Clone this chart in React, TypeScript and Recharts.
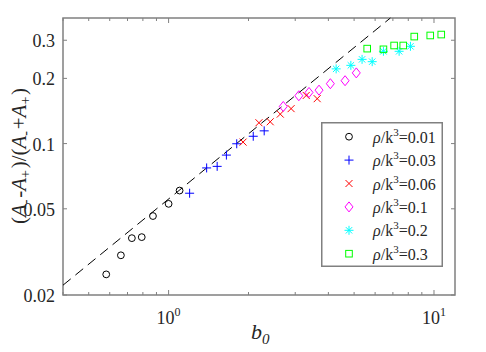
import {
    ScatterChart,
    Scatter,
    XAxis,
    YAxis,
    ReferenceLine,
    ReferenceArea,
    Legend,
} from "recharts"

// series values (b0, (A- - A+)/(A- + A+))
const labels = ["0.01", "0.03", "0.06", "0.1", "0.2", "0.3"]

const x001 = [0.582, 0.661, 0.727, 0.792, 0.873, 1.0, 1.1]
const y001 = [0.0249, 0.0305, 0.0366, 0.037, 0.0463, 0.0527, 0.0607]

const x003 = [1.2, 1.391, 1.524, 1.651, 1.806, 2.084, 2.292]
const y003 = [0.059, 0.0772, 0.0785, 0.0885, 0.0998, 0.1081, 0.1145]

const x006 = [1.908, 2.19, 2.415, 2.635, 2.894, 3.3, 3.63]
const y006 = [0.1016, 0.1248, 0.1261, 0.1368, 0.145, 0.1668, 0.1612]

const x01 = [2.704, 3.095, 3.381, 3.688, 4.069, 4.623, 5.096]
const y01 = [0.1484, 0.1663, 0.1722, 0.1765, 0.189, 0.1951, 0.212]

const x02 = [4.279, 4.861, 5.358, 5.85, 6.449, 7.39, 8.153]
const y02 = [0.2213, 0.2297, 0.2448, 0.2389, 0.2667, 0.2667, 0.2812]

const x03 = [5.602, 6.449, 7.076, 7.659, 8.427, 9.68, 10.65]
const y03 = [0.2744, 0.2724, 0.2837, 0.2837, 0.3119, 0.3156, 0.3187]

// dashed guide line end points
const guideX = [0.4, 6.85]
const guideY = [0.0222, 0.38]

const xDomain = [0.4, 12]
const yDomain = [0.02, 0.38]
const xTicks = [0.4, 0.5, 0.6, 0.7, 0.8, 0.9, 1, 2, 3, 4, 5, 6, 7, 8, 9, 10]
const yTicks = [0.02, 0.05, 0.1, 0.2, 0.3]

const AXIS = "#808080"
const TEXT = "#262626"
const SERIF = "\"Liberation Serif\", \"Times New Roman\", Times, serif"

const W = 478
const H = 344
const PLOT_LEFT = 55
const PLOT_TOP = 10
const PLOT_W = 392
const PLOT_H = 277

type Kind = "circle" | "plus" | "cross" | "diamond" | "star" | "square"

const series: { label: string; xs: number[]; ys: number[]; kind: Kind; color: string }[] = [
    { label: labels[0], xs: x001, ys: y001, kind: "circle", color: "#000000" },
    { label: labels[1], xs: x003, ys: y003, kind: "plus", color: "#0000ff" },
    { label: labels[2], xs: x006, ys: y006, kind: "cross", color: "#ff0000" },
    { label: labels[3], xs: x01, ys: y01, kind: "diamond", color: "#ff00ff" },
    { label: labels[4], xs: x02, ys: y02, kind: "star", color: "#00ffff" },
    { label: labels[5], xs: x03, ys: y03, kind: "square", color: "#00ff00" },
]

function Marker({ kind, color, cx, cy }: { kind: Kind; color: string; cx: number; cy: number }) {
    const common = { fill: "none", stroke: color, strokeWidth: 1 }
    switch (kind) {
        case "circle":
            return <circle cx={cx} cy={cy} r={3.4} {...common} />
        case "plus":
            return <path d={`M${cx - 4.5},${cy}H${cx + 4.5}M${cx},${cy - 4.5}V${cy + 4.5}`} {...common} />
        case "cross":
            return <path d={`M${cx - 3.5},${cy - 3.5}L${cx + 3.5},${cy + 3.5}M${cx - 3.5},${cy + 3.5}L${cx + 3.5},${cy - 3.5}`} {...common} />
        case "diamond":
            return <path d={`M${cx},${cy - 5}L${cx + 4},${cy}L${cx},${cy + 5}L${cx - 4},${cy}Z`} {...common} />
        case "star":
            return (
                <path
                    d={`M${cx - 4.5},${cy}H${cx + 4.5}M${cx},${cy - 4.5}V${cy + 4.5}M${cx - 3.2},${cy - 3.2}L${cx + 3.2},${cy + 3.2}M${cx - 3.2},${cy + 3.2}L${cx + 3.2},${cy - 3.2}`}
                    {...common}
                />
            )
        default:
            return <rect x={cx - 3.3} y={cy - 3.3} width={6.6} height={6.6} {...common} />
    }
}

function XTick(props: any) {
    const { x, y, payload } = props
    const v = payload.value
    const major = v === 1 || v === 10
    const len = major ? 5 : 3
    return (
        <g>
            <line x1={x} x2={x} y1={y} y2={y - len} stroke={AXIS} />
            <line x1={x} x2={x} y1={PLOT_TOP} y2={PLOT_TOP + len} stroke={AXIS} />
            {major && (
                <text x={x} y={y + 29} textAnchor="middle" fontFamily={SERIF} fontSize={18} fill={TEXT}>
                    10
                    <tspan dy={-8} fontSize={12}>{v === 1 ? "0" : "1"}</tspan>
                </text>
            )}
        </g>
    )
}

function YTick(props: any) {
    const { x, y, payload } = props
    return (
        <g>
            <line x1={x} x2={x + 4} y1={y} y2={y} stroke={AXIS} />
            <line x1={PLOT_LEFT + PLOT_W} x2={PLOT_LEFT + PLOT_W - 4} y1={y} y2={y} stroke={AXIS} />
            <text x={x - 8} y={y + 7} textAnchor="end" fontFamily={SERIF} fontSize={18} fill={TEXT}>
                {String(payload.value)}
            </text>
        </g>
    )
}

function YLabel() {
    const cx = 18
    const cy = 148
    const sub = (s: string) => (
        <>
            <tspan dy={4} fontSize={14}>{s}</tspan>
            <tspan dy={-4}>{"\u200a"}</tspan>
        </>
    )
    return (
        <text x={cx} y={cy} transform={`rotate(-90, ${cx}, ${cy})`} textAnchor="middle" fontFamily={SERIF} fontSize={21} fill={TEXT}>
            (<tspan fontStyle="italic">A</tspan>{sub("-")}-<tspan fontStyle="italic">A</tspan>{sub("+")})/(<tspan fontStyle="italic">A</tspan>{sub("-")}+<tspan fontStyle="italic">A</tspan>{sub("+")})
        </text>
    )
}

function XLabel() {
    return (
        <text x={243} y={331} fontFamily={SERIF} fontSize={22} fontStyle="italic" fill={TEXT}>
            b<tspan dy={5} fontSize={15}>0</tspan>
        </text>
    )
}

function LegendBox() {
    return (
        <svg width={122} height={145} style={{ display: "block" }}>
            <rect x={0.75} y={0.75} width={120.5} height={143.5} fill="#ffffff" stroke={AXIS} strokeWidth={1.5} />
            {series.map((s, i) => {
                const cy = 14.7 + i * 23.4
                return (
                    <g key={s.label}>
                        <Marker kind={s.kind} color={s.color} cx={28} cy={cy} />
                        <text x={52} y={cy + 6} fontFamily={SERIF} fontSize={16} fill={TEXT}>
                            <tspan fontStyle="italic">ρ</tspan>/k
                            <tspan dy={-7} fontSize={11}>3</tspan>
                            <tspan dy={7}>={s.label}</tspan>
                        </text>
                    </g>
                )
            })}
        </svg>
    )
}

export default function App() {
    return (
        <div style={{ width: W, height: H, fontFamily: SERIF }}>
            <ScatterChart width={W} height={H} margin={{ top: PLOT_TOP, right: W - PLOT_LEFT - PLOT_W, bottom: 0, left: 0 }}>
                <XAxis
                    type="number"
                    dataKey="x"
                    scale="log"
                    domain={xDomain}
                    allowDataOverflow
                    ticks={xTicks}
                    interval={0}
                    tick={<XTick />}
                    tickLine={false}
                    tickSize={0}
                    tickMargin={0}
                    axisLine={false}
                    height={H - PLOT_TOP - PLOT_H}
                    label={{ content: () => <XLabel /> }}
                />
                <YAxis
                    type="number"
                    dataKey="y"
                    scale="log"
                    domain={yDomain}
                    allowDataOverflow
                    ticks={yTicks}
                    interval={0}
                    tick={<YTick />}
                    tickLine={false}
                    tickSize={0}
                    tickMargin={0}
                    axisLine={false}
                    width={PLOT_LEFT}
                    label={{ content: () => <YLabel /> }}
                />
                <ReferenceArea
                    x1={xDomain[0]}
                    x2={xDomain[1]}
                    y1={yDomain[0]}
                    y2={yDomain[1]}
                    fill="none"
                    fillOpacity={0}
                    stroke={AXIS}
                    strokeWidth={1.5}
                />
                <ReferenceLine
                    segment={[
                        { x: guideX[0], y: guideY[0] },
                        { x: guideX[1], y: guideY[1] },
                    ]}
                    stroke="#000000"
                    strokeWidth={1}
                    strokeDasharray="10 6"
                />
                {series.map((s) => (
                    <Scatter
                        key={s.label}
                        name={s.label}
                        data={s.xs.map((x, i) => ({ x, y: s.ys[i] }))}
                        isAnimationActive={false}
                        shape={(p: any) => <Marker kind={s.kind} color={s.color} cx={p.cx} cy={p.cy} />}
                    />
                ))}
                <Legend
                    layout="vertical"
                    align="center"
                    verticalAlign="middle"
                    content={() => <LegendBox />}
                    wrapperStyle={{ position: "absolute", left: 313, top: 114, width: 122, height: 145 }}
                />
            </ScatterChart>
        </div>
    )
}
